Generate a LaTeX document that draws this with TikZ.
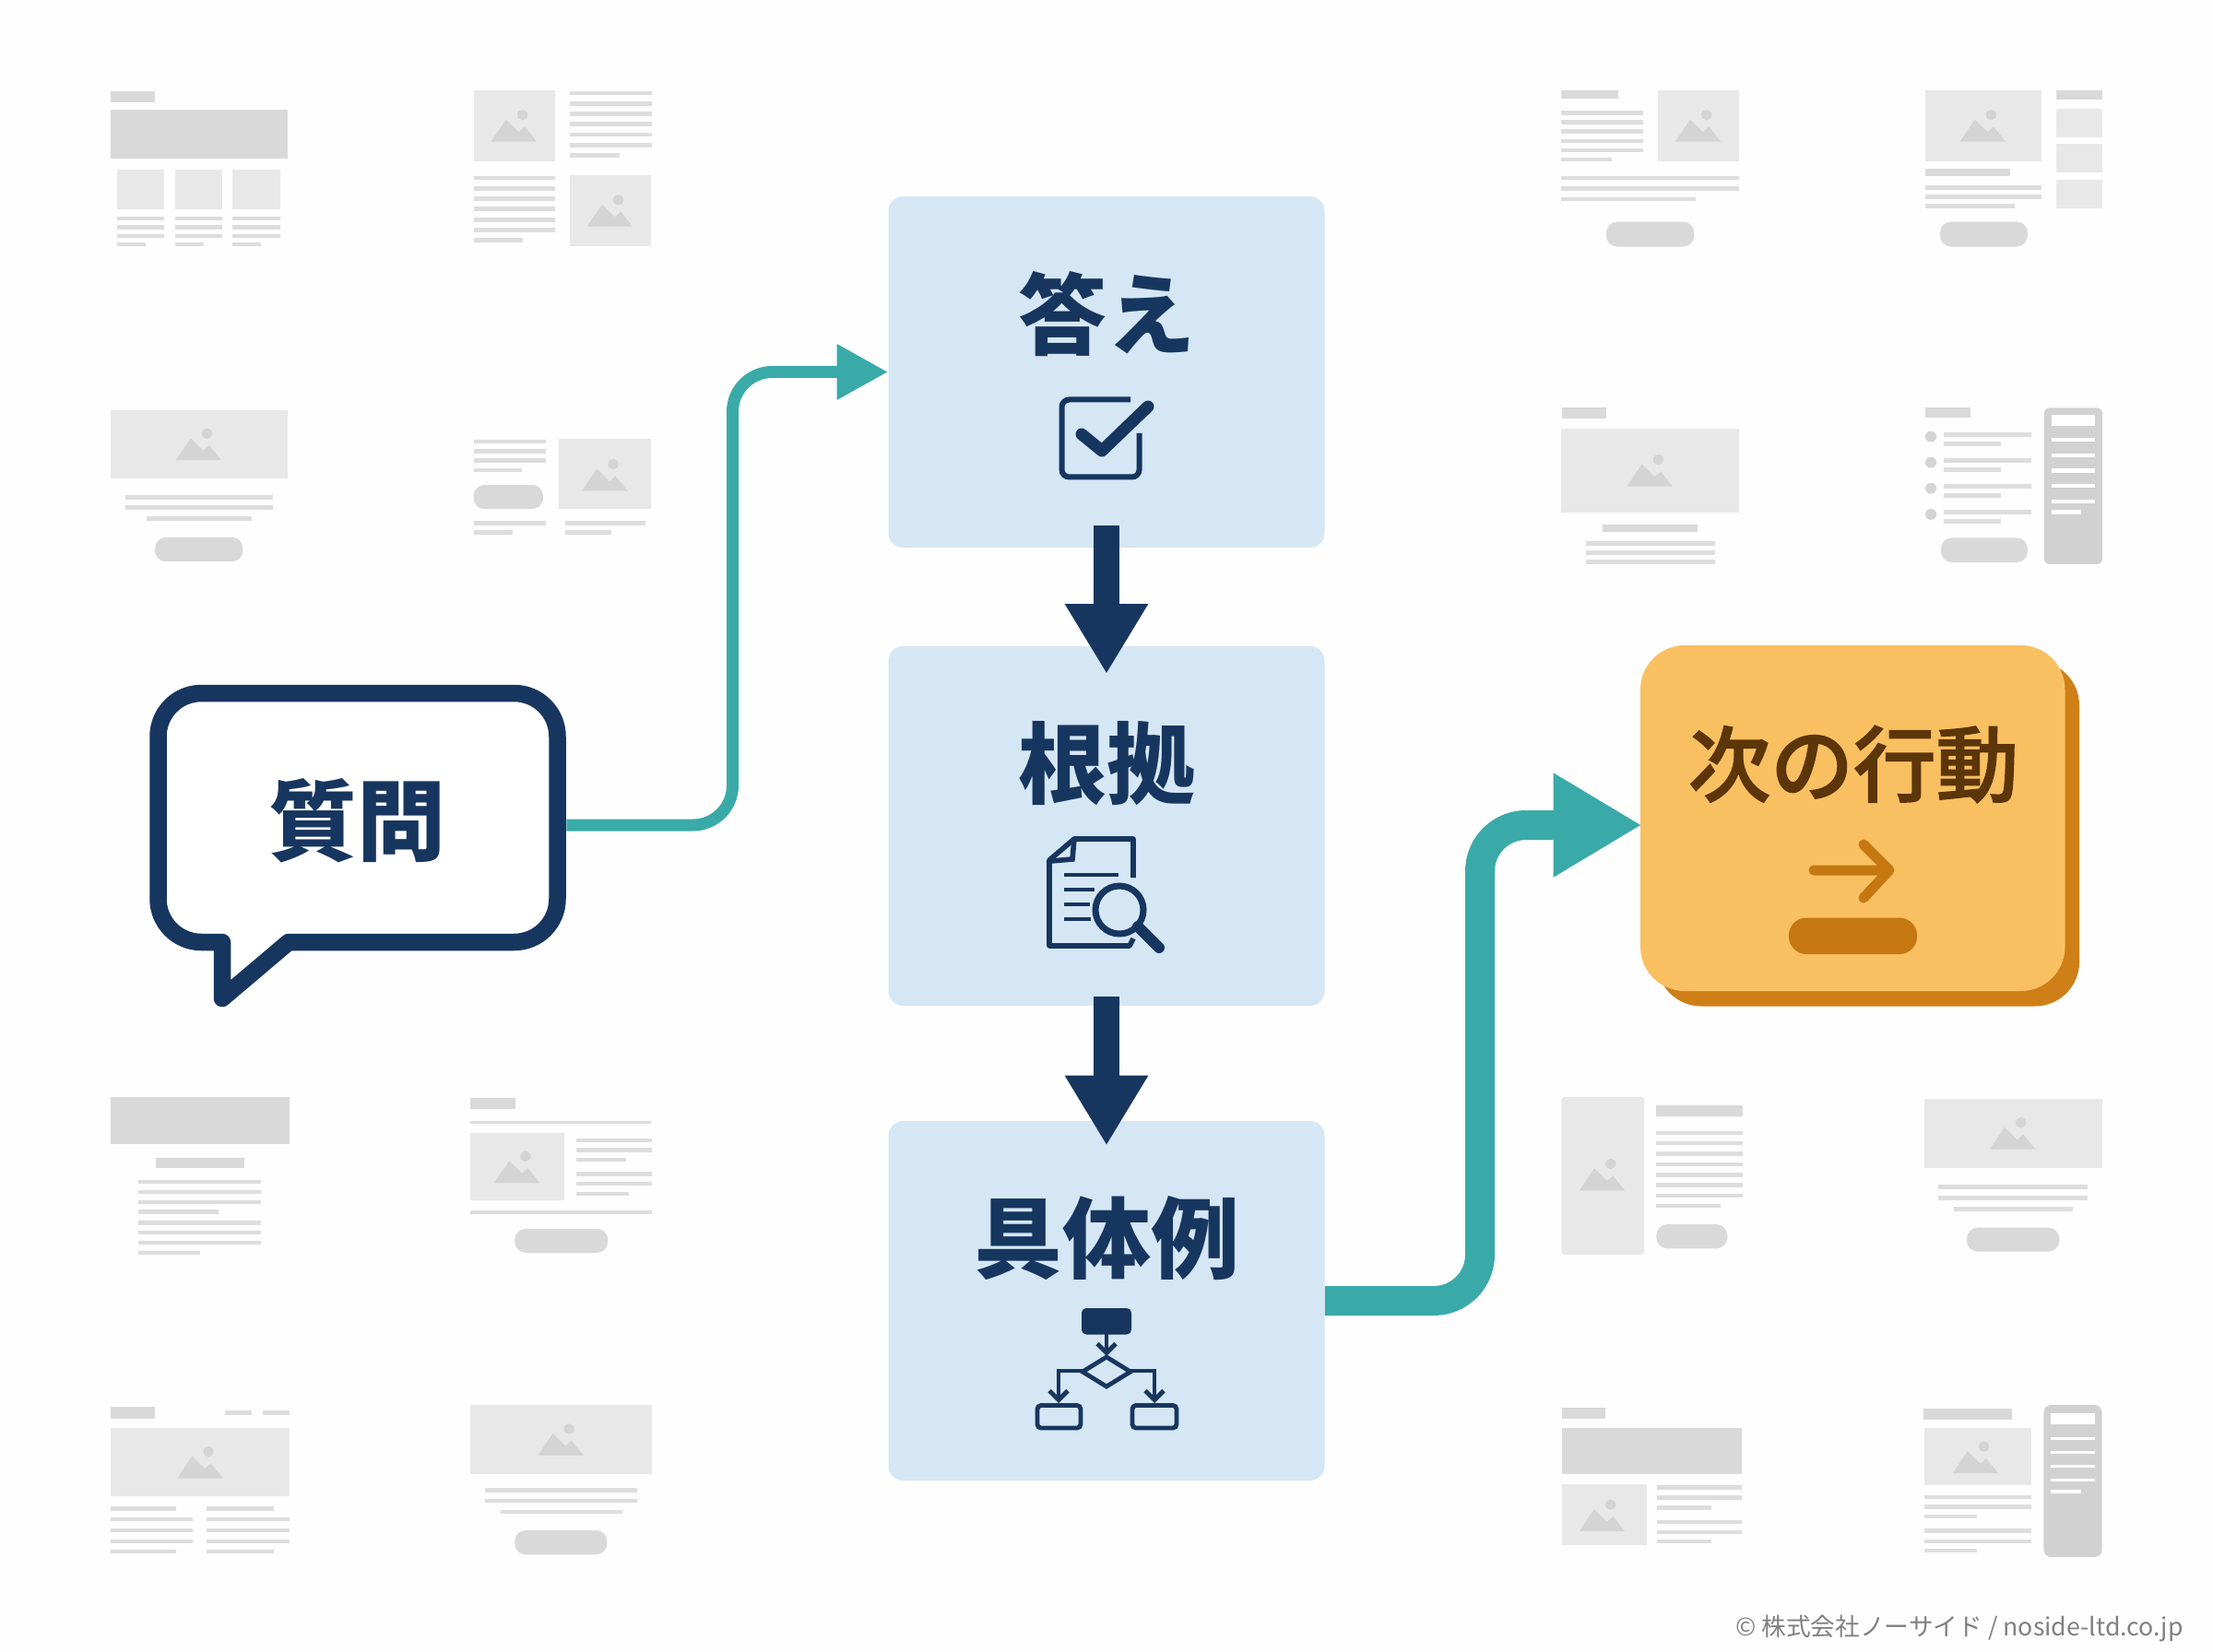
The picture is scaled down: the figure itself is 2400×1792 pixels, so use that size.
\documentclass[tikz,border=0pt]{standalone}
\usepackage{fontspec}
\usetikzlibrary{arrows.meta}
\newfontfamily\jp{Noto Sans CJK JP}
\newfontfamily\jpm[FakeBold=1.6]{Noto Sans CJK JP Medium}
\definecolor{navy}{HTML}{17365F}
\definecolor{teal2}{HTML}{3AAAA9}
\definecolor{sky}{HTML}{D5E7F5}
\definecolor{orangeA}{HTML}{F9C061}
\definecolor{orangeB}{HTML}{CF7F17}
\definecolor{orangeC}{HTML}{C57812}
\definecolor{brownT}{HTML}{5C3508}
\definecolor{barC}{HTML}{DDDDDD}
\definecolor{imgC}{HTML}{E8E8E8}
\definecolor{mtnC}{HTML}{D4D4D4}
\definecolor{heroC}{HTML}{D9D9D9}
\definecolor{sideC}{HTML}{D1D1D1}
\definecolor{paper}{HTML}{FEFEFE}
\tikzset{
  mainbox/.style={fill=sky,rounded corners=8pt,minimum width=236.5pt,inner sep=0pt},
  title/.style={font=\jp\bfseries\fontsize{48}{48}\selectfont,text=navy,inner sep=0pt},
  flowdown/.style={line width=14pt,navy,-{Triangle[length=38pt,width=42.5pt]}},
  iconline/.style={navy,line width=3pt,rounded corners=4pt},
  flowline/.style={navy,line width=2.4pt},
  wbar/.style={fill=barC},wimg/.style={fill=imgC},wmtn/.style={fill=mtnC},
  whero/.style={fill=heroC},wbtn/.style={fill=heroC,rounded corners=6pt}
}
\newcommand{\wb}[4]{\fill[wbar] (#1,#2) rectangle (#3,#4);}
\newcommand{\wh}[4]{\fill[whero] (#1,#2) rectangle (#3,#4);}
\newcommand{\wn}[4]{\fill[wbtn] (#1,#2) rectangle (#3,#4);}
\newcommand{\wbw}[4]{\fill[white] (#1,#2) rectangle (#3,#4);}
\newcommand{\wm}[2]{\begin{scope}[shift={(#1,#2)},xscale=\wmx,yscale=\wmy]
  \fill[wmtn] (0,0)--(37,-67)--(69,-29)--(84,-45)--(114,0)--cycle;
  \fill[wmtn] (78,-81) ellipse [x radius=13,y radius=16];\end{scope}}
\newcommand{\wi}[6]{\fill[wimg] (#1,#2) rectangle (#3,#4);\wm{#5}{#6}}
\begin{document}
\begin{tikzpicture}[x=0.5pt,y=-0.5pt]
\useasboundingbox (0,0) rectangle (2400,1792);
\fill[paper] (0,0) rectangle (2400,1792);

% ---- wireframes, left half top
\begin{scope}[shift={(80,60)},xscale=0.4336,yscale=0.3571]
\def\wmx{1}\def\wmy{1}
% A
\wh{92}{108}{204}{143}\wh{92}{166}{535}{313}
\fill[wimg] (108,347) rectangle (227,469);\fill[wimg] (253,347) rectangle (371,469);\fill[wimg] (397,347) rectangle (517,469);
\foreach \a/\b/\c in {108/227/180,253/371/325,397/517/469}{
 \wb{\a}{490}{\b}{502}\wb{\a}{516}{\b}{528}\wb{\a}{543}{\b}{555}\wb{\a}{569}{\c}{581}}
% B
\wi{1001}{107}{1204}{322}{1044}{262}
\foreach \y in {108,140,172,203,234,266}{\wb{1240}{\y}{1445}{\y+13}}
\wb{1240}{298}{1365}{311}
\foreach \y in {366,398,429,460,493,524}{\wb{1001}{\y}{1203}{\y+13}}
\wb{1001}{555}{1124}{568}
\wi{1240}{364}{1444}{580}{1284}{520}
% C
\wi{92}{1077}{535}{1285}{255}{1230}
\wb{129}{1335}{498}{1349}\wb{129}{1366}{498}{1380}\wb{183}{1400}{444}{1413}
\wn{203}{1464}{423}{1538}
% D
\wb{1000}{1167}{1181}{1180}\wb{1000}{1196}{1181}{1209}\wb{1000}{1224}{1181}{1237}\wb{1000}{1254}{1122}{1267}
\wn{1000}{1305}{1174}{1378}
\wi{1214}{1166}{1444}{1378}{1271}{1323}
\wb{1001}{1414}{1181}{1427}\wb{1001}{1442}{1097}{1455}\wb{1229}{1414}{1430}{1427}\wb{1229}{1442}{1344}{1455}
\end{scope}

% ---- wireframes, right half top
\begin{scope}[shift={(1660,60)},xscale=0.4336,yscale=0.3699]
\def\wmx{1}\def\wmy{0.965}
% E
\wh{77}{104}{220}{128}
\foreach \y in {162,190,217,245,272}{\wb{77}{\y}{281}{\y+13}}
\wb{77}{300}{203}{312}
\wi{318}{104}{521}{311}{362}{253}
\wb{77}{353}{521}{366}\wb{77}{384}{521}{397}\wb{77}{415}{412}{428}
\wn{189}{488}{409}{561}
% F
\wi{987}{104}{1277}{311}{1074}{253}
\wh{1314}{104}{1430}{130}
\fill[wimg] (1314,158) rectangle (1430,240);\fill[wimg] (1314,260) rectangle (1430,343);\fill[wimg] (1314,364) rectangle (1430,448);
\wh{987}{333}{1199}{355}
\wb{987}{381}{1277}{394}\wb{987}{408}{1277}{421}\wb{987}{436}{1210}{449}
\wn{1024}{488}{1243}{561}
% G
\wh{78}{1033}{190}{1066}
\wi{77}{1094}{521}{1340}{241}{1264}
\wh{181}{1376}{417}{1398}
\wb{138}{1425}{461}{1438}\wb{138}{1453}{461}{1466}\wb{138}{1480}{461}{1493}
% H
\wh{987}{1033}{1101}{1063}
\foreach \y in {1106,1182,1258,1334}{
 \fill[wmtn] (1001,\y+12) ellipse [x radius=14,y radius=16];
 \wb{1033}{\y}{1253}{\y+12}\wb{1033}{\y+27}{1176}{\y+39}}
\wn{1026}{1415}{1243}{1487}
\fill[sideC,rounded corners=3pt] (1284,1034) rectangle (1430,1492);
\wbw{1303}{1055}{1411}{1088}
\foreach \y in {1122,1167,1212,1257,1302}{\wbw{1303}{\y}{1411}{\y+12}}
\wbw{1303}{1333}{1377}{1345}
\end{scope}

% ---- wireframes, left half bottom
\begin{scope}[shift={(80,1160)},xscale=0.4336,yscale=0.3571]
\def\wmx{1}\def\wmy{1}
% I
\wh{92}{84}{540}{226}\wh{205}{269}{426}{301}
\foreach \y in {336,367,397,460,490,520}{\wb{162}{\y}{468}{\y+12}}
\wb{162}{427}{363}{439}\wb{162}{551}{317}{563}
% J
\wh{992}{88}{1104}{121}\wb{992}{157}{1444}{165}
\wi{992}{193}{1228}{399}{1052}{345}
\wb{1256}{209}{1445}{221}\wb{1256}{239}{1445}{251}\wb{1256}{269}{1381}{281}
\wb{1256}{312}{1445}{324}\wb{1256}{342}{1445}{354}\wb{1256}{372}{1388}{384}
\wb{992}{428}{1446}{439}
\wn{1103}{484}{1336}{557}
% K
\wh{92}{1026}{202}{1060}\wb{378}{1037}{445}{1050}\wb{473}{1037}{540}{1050}
\wi{93}{1088}{539}{1297}{259}{1242}
\wb{92}{1328}{257}{1340}\wb{92}{1458}{256}{1470}
\wb{332}{1328}{500}{1340}\wb{332}{1458}{500}{1470}
\foreach \y in {1361,1394,1427}{\wb{92}{\y}{298}{\y+12}\wb{332}{\y}{540}{\y+12}}
% L
\wi{992}{1020}{1445}{1229}{1161}{1173}
\wb{1029}{1272}{1408}{1284}\wb{1029}{1305}{1408}{1317}\wb{1067}{1338}{1372}{1350}
\wn{1103}{1400}{1334}{1474}
\end{scope}

% ---- wireframes, right half bottom
\begin{scope}[shift={(1660,1160)},xscale=0.4719,yscale=0.4031]
\def\wmx{0.919}\def\wmy{0.886}
% M
\fill[wimg,rounded corners=1.5pt] (71,74) rectangle (261,499);\wm{112}{326}
\wh{289}{96}{487}{126}
\foreach \y in {165,193,221,250,278,306,334}{\wb{289}{\y}{487}{\y+11}}
\wb{289}{362}{436}{372}
\wn{289}{417}{452}{482}
% N
\wi{904}{80}{1314}{265}{1055}{215}
\wb{937}{311}{1280}{323}\wb{937}{340}{1280}{352}\wb{972}{369}{1245}{381}
\wn{1002}{426}{1215}{490}
% O
\wh{71}{910}{172}{940}\wh{71}{965}{486}{1089}
\wi{71}{1116}{267}{1281}{112}{1243}
\wb{290}{1120}{486}{1131}\wb{290}{1147}{486}{1158}\wb{290}{1174}{415}{1185}
\wb{290}{1213}{486}{1224}\wb{290}{1240}{486}{1251}\wb{290}{1265}{415}{1276}
% P
\wh{903}{913}{1106}{942}
\wi{904}{965}{1151}{1118}{970}{1087}
\wb{904}{1145}{1151}{1156}\wb{904}{1172}{1151}{1183}\wb{904}{1198}{1026}{1209}
\wb{904}{1236}{1151}{1247}\wb{904}{1264}{1151}{1275}\wb{904}{1289}{1026}{1300}
\fill[sideC,rounded corners=4pt] (1179,903) rectangle (1313,1312);
\wbw{1196}{925}{1296}{956}
\foreach \y in {989,1026,1063,1101}{\wbw{1196}{\y}{1296}{\y+8}}
\wbw{1196}{1132}{1265}{1141}
\end{scope}

% ---- main boxes
\node[mainbox,minimum height=190.5pt] (ans) at (1200,403.5) {};
\node[mainbox,minimum height=195pt] (ev) at (1200,896) {};
\node[mainbox,minimum height=195pt] (ex) at (1200,1411) {};

% ---- action box
\fill[orangeB,rounded corners=24pt] (1797,717) rectangle (2255,1091.5);
\node[fill=orangeA,rounded corners=24pt,minimum width=230.25pt,minimum height=187.5pt,inner sep=0pt] (act) at (2009.25,887.5) {};

% ---- question bubble (named frame for the connector)
\node[minimum width=226pt,minimum height=144pt,inner sep=0pt] (q) at (388,887) {};
\draw[teal2,line width=6.5pt,rounded corners=21.5pt,-{Triangle[length=27.75pt,width=28.5pt]}]
  ([yshift=-4pt]q.east) -- (794.5,895) -- (794.5,403.5) -- (ans.west);
\draw[navy,fill=white,line width=9.25pt,line join=round]
  (313,1022) -- (557.5,1022) .. controls (583.5,1022) and (604.5,1001) .. (604.5,975) -- (604.5,799)
  .. controls (604.5,773) and (583.5,752) .. (557.5,752) -- (218.5,752)
  .. controls (192.5,752) and (171.5,773) .. (171.5,799) -- (171.5,975)
  .. controls (171.5,1001) and (192.5,1022) .. (218.5,1022) -- (241,1022) -- (241,1083) -- cycle;

% ---- connectors
\draw[flowdown] ([yshift=12pt]ans.south) -- ([yshift=-15.2pt]ev.north);
\draw[flowdown] ([yshift=5pt]ev.south) -- ([yshift=-13.5pt]ex.north);
\draw[teal2,line width=16pt,rounded corners=25pt,-{Triangle[length=48pt,width=53pt]}]
  (ex.east) -- (1605,1411) -- (1605,895) -- ([xshift=1pt,yshift=-3.75pt]act.west);

% ---- labels
\node[title] (tq) at (387,890) {質問};
\node[title] (ta) at (1200,341) {答え};
\node[title] (te) at (1200,828) {根拠};
\node[title] (tx) at (1200,1343) {具体例};
\node[title,text=brownT,font=\jpm\fontsize{44.8}{46}\selectfont] (tn) at (2010,829) {次の行動};
\node[inner sep=0pt,text=black!50,font=\jp\fontsize{13.35}{14}\selectfont,anchor=east] (cr) at (2368,1767) {© 株式会社ノーサイド / noside-ltd.co.jp};

% ---- check icon
\draw[iconline] (1226,433.5) -- (1151.5,433.5) -- (1151.5,517.5) -- (1235.5,517.5) -- (1235.5,470);
\draw[navy,line width=6.5pt,line cap=round,line join=round] (1173,471) -- (1195,489) -- (1245,441);

% ---- document icon
\draw[navy,line width=2.8pt,line join=round] (1229,952) -- (1229,910) -- (1165,910) -- (1138,933) -- (1138,1026) -- (1225,1026) -- (1229,1018);
\draw[navy,line width=2.8pt] (1165,910) -- (1163,932) -- (1140,934);
\draw[navy,line width=2.4pt] (1154,949) -- (1213,949) (1154,965) -- (1187,965) (1154,981) -- (1182,981) (1154,997) -- (1183,997);
\draw[navy,line width=3.5pt,fill=sky] (1214,987) circle [radius=26];
\draw[navy,line width=6pt,line cap=round] (1234,1005) -- (1257,1028);

% ---- flow icon
\fill[navy,rounded corners=2.5pt] (1173,1419) rectangle (1227,1447.5);
\draw[flowline] (1174,1488) -- (1200,1472) -- (1226,1488) -- (1200,1504) -- cycle;
\draw[flowline,-{Straight Barb[length=5pt,width=10pt]}] (1200,1447) -- (1200,1471);
\draw[flowline,-{Straight Barb[length=5pt,width=10pt]}] (1174,1487) -- (1148,1487) -- (1148,1522);
\draw[flowline,-{Straight Barb[length=5pt,width=10pt]}] (1226,1487) -- (1252,1487) -- (1252,1522);
\draw[flowline,rounded corners=2pt] (1125,1524.5) rectangle (1172,1549);
\draw[flowline,rounded corners=2pt] (1228,1524.5) rectangle (1276,1549);

% ---- action icon
\draw[orangeC,line width=5.5pt,line cap=round,line join=round] (1967,944) -- (2049,944) (2021,916) -- (2049,944) -- (2021,974);
\fill[orangeC,rounded corners=9.5pt] (1940,995.5) rectangle (2079,1035);
\end{tikzpicture}
\end{document}
